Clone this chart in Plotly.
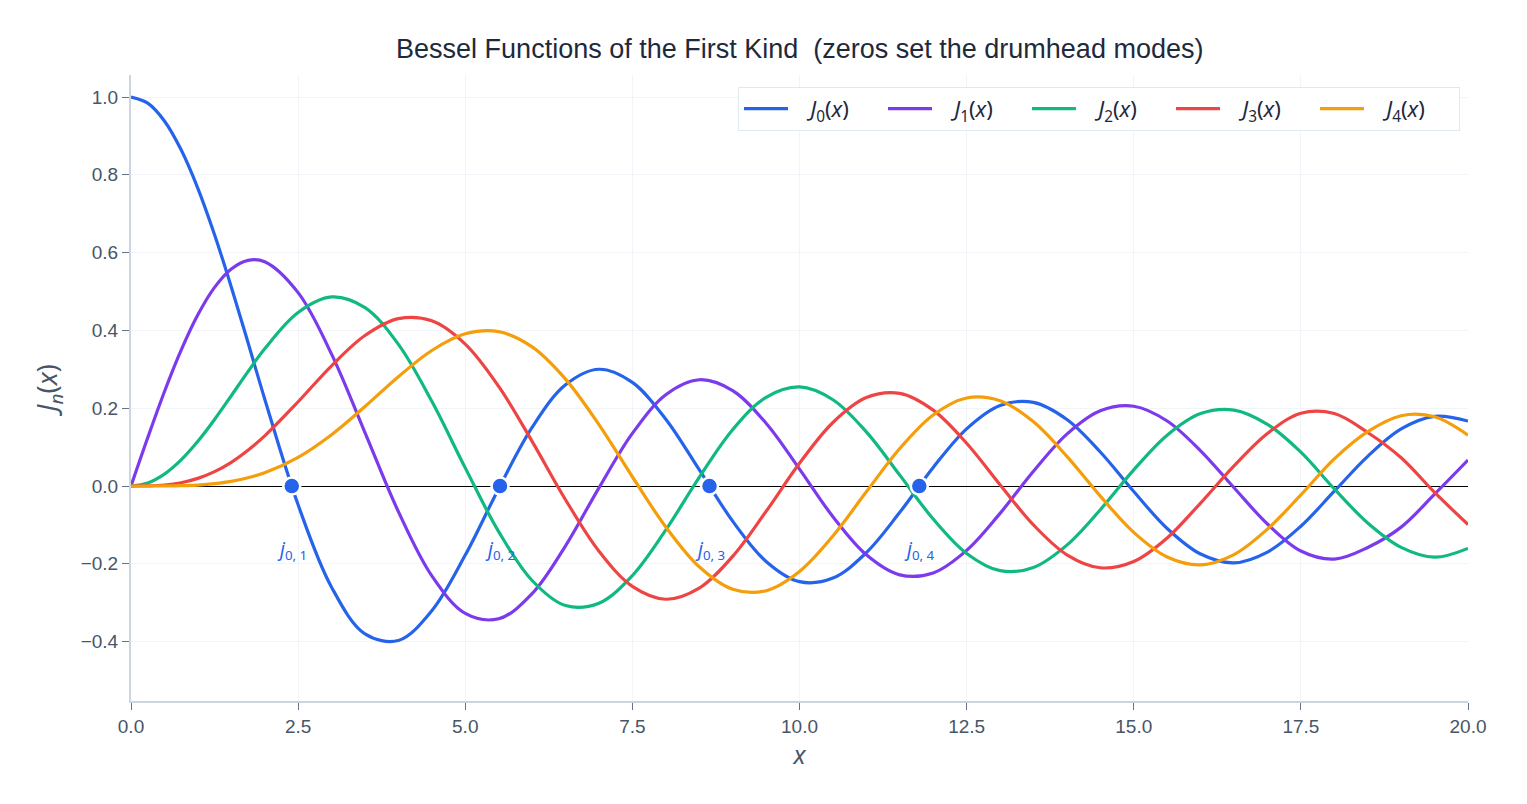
import plotly.graph_objects as go

# ── data ─────────────────────────────────────────────────────────────
x_vals = [0.0, 0.25, 0.5, 0.75, 1.0, 1.25, 1.5, 1.75] + [2.0 + i * 0.5 for i in range(37)]

j0_vals = [1.0, 0.9844, 0.9385, 0.8642, 0.7652, 0.6459, 0.5118, 0.3690, 0.2239, -0.0484, -0.2601,
           -0.3801, -0.3971, -0.3205, -0.1776, -0.0068, 0.1506, 0.2601, 0.3001, 0.2663, 0.1717,
           0.0419, -0.0903, -0.1939, -0.2459, -0.2366, -0.1712, -0.0677, 0.0477, 0.1469, 0.2069,
           0.2150, 0.1711, 0.0875, -0.0142, -0.1092, -0.1749, -0.1975, -0.1699, -0.1033, -0.0134,
           0.0762, 0.1466, 0.1790, 0.1670]
j1_vals = [0.0, 0.1240, 0.2423, 0.3492, 0.4401, 0.5106, 0.5579, 0.5802, 0.5767, 0.4971, 0.3391,
           0.1374, -0.0660, -0.2311, -0.3276, -0.3414, -0.2767, -0.1538, -0.0047, 0.1352, 0.2346,
           0.2731, 0.2453, 0.1613, 0.0435, -0.0789, -0.1768, -0.2284, -0.2234, -0.1655, -0.0703,
           0.0380, 0.1334, 0.1934, 0.2051, 0.1672, 0.0904, -0.0044, -0.0977, -0.1672, -0.1880,
           -0.1580, -0.1057, -0.0210, 0.0668]
j2_vals = [0.0, 0.0078, 0.0306, 0.0671, 0.1149, 0.1711, 0.2321, 0.2940, 0.3528, 0.4461, 0.4861,
           0.4586, 0.3641, 0.2178, 0.0466, -0.1173, -0.2429, -0.3074, -0.3014, -0.2303, -0.1130,
           0.0223, 0.1448, 0.2279, 0.2546, 0.2218, 0.1390, 0.0279, -0.0849, -0.1734, -0.2177,
           -0.2094, -0.1520, -0.0609, 0.0416, 0.1307, 0.1862, 0.1951, 0.1584, 0.0870, -0.0075,
           -0.0950, -0.1578, -0.1830, -0.1603]
j3_vals = [0.0, 0.0003, 0.0026, 0.0085, 0.0196, 0.0369, 0.0610, 0.0920, 0.1289, 0.2166, 0.3091,
           0.3868, 0.4302, 0.4247, 0.3648, 0.2561, 0.1148, -0.0353, -0.1676, -0.2581, -0.2911,
           -0.2626, -0.1809, -0.0653, 0.0584, 0.1633, 0.2273, 0.2381, 0.1951, 0.1100, 0.0033,
           -0.1001, -0.1768, -0.2102, -0.1940, -0.1335, -0.0438, 0.0517, 0.1349, 0.1871, 0.1863,
           0.1375, 0.0725, -0.0165, -0.0989]
j4_vals = [0.0, 0.0000, 0.0002, 0.0008, 0.0025, 0.0060, 0.0118, 0.0213, 0.0340, 0.0738, 0.1320,
           0.2044, 0.2811, 0.3484, 0.3912, 0.3967, 0.3577, 0.2748, 0.1578, 0.0238, -0.1053,
           -0.2077, -0.2654, -0.2691, -0.2196, -0.1285, -0.0150, 0.0963, 0.1825, 0.2262, 0.2192,
           0.1649, 0.0762, -0.0261, -0.1192, -0.1824, -0.2026, -0.1763, -0.1108, -0.0229, 0.0696,
           0.1396, 0.1807, 0.1779, 0.1306]

zeros_j0 = [2.405, 5.520, 8.654, 11.792]
zero_labels = ['<i>j</i><sub>0, 1</sub>', '<i>j</i><sub>0, 2</sub>',
               '<i>j</i><sub>0, 3</sub>', '<i>j</i><sub>0, 4</sub>']

series = [
    ('<i>J</i><sub>0</sub>(<i>x</i>)', j0_vals, '#2563eb'),
    ('<i>J</i><sub>1</sub>(<i>x</i>)', j1_vals, '#7c3aed'),
    ('<i>J</i><sub>2</sub>(<i>x</i>)', j2_vals, '#10b981'),
    ('<i>J</i><sub>3</sub>(<i>x</i>)', j3_vals, '#ef4444'),
    ('<i>J</i><sub>4</sub>(<i>x</i>)', j4_vals, '#f59e0b'),
]

FONT = 'Liberation Sans, Arial, sans-serif'
MATH_FONT = 'Noto Sans, Open Sans, sans-serif'

fig = go.Figure()

for name, ys, c in series:
    fig.add_trace(go.Scatter(
        x=x_vals, y=ys, name='\u00a0\u00a0\u00a0' + name, mode='lines',
        line=dict(color=c, width=3.2, shape='spline', smoothing=1.0)
    ))

# zeros of J0 (drumhead modes)
fig.add_trace(go.Scatter(
    x=zeros_j0, y=[0] * len(zeros_j0), mode='markers', showlegend=False,
    marker=dict(size=17, color='#2563eb', line=dict(color='white', width=2.5))
))
for zx, lab in zip(zeros_j0, zero_labels):
    fig.add_annotation(x=zx, y=-0.165, text=lab, showarrow=False,
                       font=dict(size=19, color='#2563eb', family=MATH_FONT))

fig.update_layout(
    width=1511, height=788,
    title=dict(text='Bessel Functions of the First Kind  (zeros set the drumhead modes)',
               x=0.524, xanchor='center', y=0.949, yanchor='middle',
               font=dict(size=27, color='#1e293b', family=FONT)),
    paper_bgcolor='white', plot_bgcolor='white',
    font=dict(family=FONT, color='#475569', size=19),
    margin=dict(l=123, r=51, t=67, b=95),
    legend=dict(orientation='h', x=0.994, xanchor='right', y=0.981, yanchor='top',
                bordercolor='#e2e8f0', borderwidth=1, bgcolor='white',
                itemwidth=44, entrywidth=85,
                font=dict(size=22, color='#1e293b', family=MATH_FONT)),
)
fig.update_xaxes(
    range=[0, 20], dtick=2.5, tickformat='.1f',
    title=dict(text='<i>x</i>', standoff=10,
               font=dict(size=25, color='#475569', family=MATH_FONT)),
    showline=True, linecolor='#cbd5e1', linewidth=2,
    ticks='outside', ticklen=7, tickcolor='#64748b',
    gridcolor='#f1f5f9', zeroline=False,
)
fig.update_yaxes(
    range=[-0.5527, 1.0566], dtick=0.2, tickformat='.1f',
    title=dict(text='<i>J<sub>n</sub></i>(<i>x</i>)',
               font=dict(size=27, color='#475569', family=MATH_FONT)),
    showline=True, linecolor='#cbd5e1', linewidth=2,
    ticks='outside', ticklen=7, tickcolor='#64748b',
    gridcolor='#f1f5f9', zeroline=True, zerolinecolor='black', zerolinewidth=1,
)

fig.write_html('out.html')
